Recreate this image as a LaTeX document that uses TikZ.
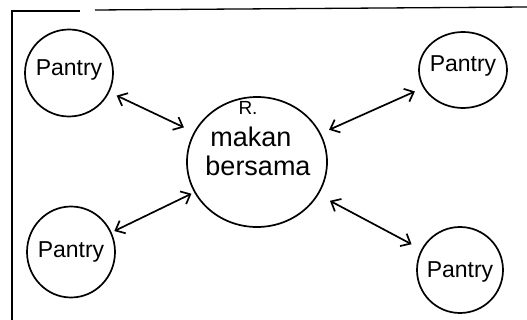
\documentclass[tikz,border=0pt]{standalone}
\usepackage{fontspec}
\setmainfont{Liberation Sans}
\usetikzlibrary{arrows.meta,shapes.geometric}
\begin{document}
\begin{tikzpicture}[x=1pt,y=-1pt,
  room/.style={draw,ellipse,line width=1.7pt,inner sep=0pt},
  pantrytext/.style={font=\fontsize{23}{26}\selectfont},
  midtext/.style={font=\fontsize{27}{30}\selectfont,anchor=base},
  link/.style={line width=1.7pt,{Straight Barb[length=8pt,width=14pt]}-{Straight Barb[length=8pt,width=14pt]}},
  frame/.style={line width=1.3pt}]
\useasboundingbox (0,0) rectangle (527,320);
% frame
\coordinate (f1) at (12,320);
\coordinate (f2) at (12,11);
\coordinate (f3) at (80,11);
\coordinate (f4) at (95,10);
\coordinate (f5) at (527,7);
\draw[frame] (f1) -- (f2) -- (f3);
\draw[frame] (f4) -- (f5);
% rooms
\node[room,minimum width=88pt,minimum height=87pt] (tl) at (69,73) {};
\node[pantrytext] (tlt) at (69,70) {Pantry};
\node[room,minimum width=88pt,minimum height=76pt] (tr) at (463,70) {};
\node[pantrytext] (trt) at (463,66) {Pantry};
\node[room,minimum width=88pt,minimum height=91pt] (bl) at (71,252) {};
\node[pantrytext] (blt) at (71,252) {Pantry};
\node[room,minimum width=86pt,minimum height=86pt] (br) at (460,270) {};
\node[pantrytext] (brt) at (460,272) {Pantry};
\node[room,minimum width=140pt,minimum height=130pt] (c) at (257,162) {};
\node[font=\fontsize{19}{22}\selectfont,anchor=base] (cr) at (248,115) {R.};
\node[midtext] (cm) at (251,147) {makan};
\node[midtext] (cb) at (258,176) {bersama};
% links
\draw[link,shorten <=8pt,shorten >=11pt] (tl) -- (c);
\draw[link,shorten <=9pt,shorten >=9pt] (tr) -- (c);
\draw[link,shorten <=3pt,shorten >=3pt] (bl) -- (c);
\draw[link,shorten <=11pt,shorten >=13pt] (br) -- (c);
\end{tikzpicture}
\end{document}
